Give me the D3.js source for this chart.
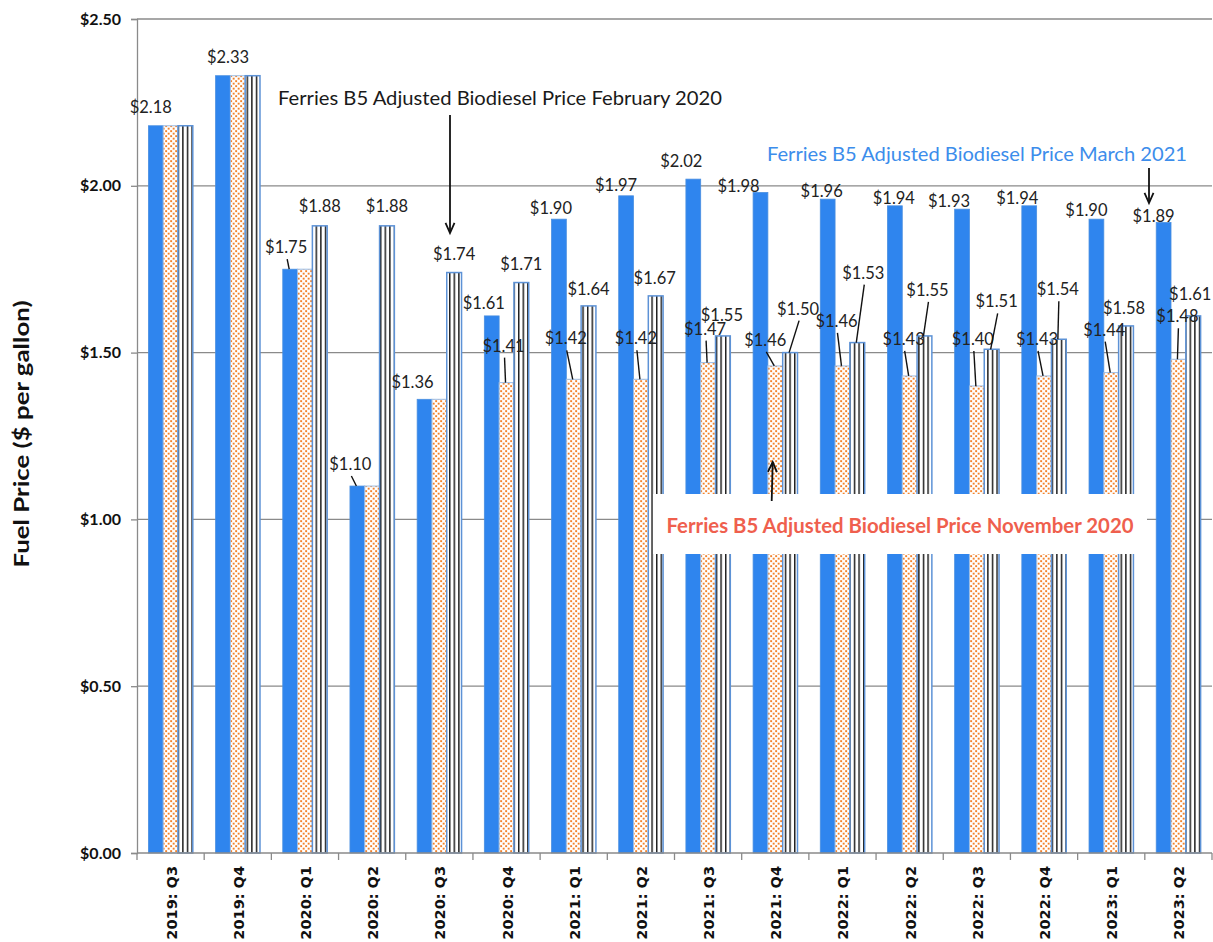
<!DOCTYPE html>
<html><head><meta charset="utf-8">
<script src="https://cdn.jsdelivr.net/npm/d3@7"></script>
<style>body{margin:0;background:#fff}svg{display:block}</style>
</head><body><svg id="c" width="1213" height="942"></svg>
<script>
// ---------- data ----------
const categories = ["2019: Q3","2019: Q4","2020: Q1","2020: Q2","2020: Q3","2020: Q4","2021: Q1","2021: Q2","2021: Q3","2021: Q4","2022: Q1","2022: Q2","2022: Q3","2022: Q4","2023: Q1","2023: Q2"];
const blueValues   = [2.18,2.33,1.75,1.10,1.36,1.61,1.90,1.97,2.02,1.98,1.96,1.94,1.93,1.94,1.90,1.89];
const orangeValues = [2.18,2.33,1.75,1.10,1.36,1.41,1.42,1.42,1.47,1.46,1.46,1.43,1.40,1.43,1.44,1.48];
const stripeValues = [2.18,2.33,1.88,1.88,1.74,1.71,1.64,1.67,1.55,1.50,1.53,1.55,1.51,1.54,1.58,1.61];
const yTickValues  = [0,0.5,1,1.5,2,2.5];
const annotationTexts = ["Ferries B5 Adjusted Biodiesel Price February 2020","Ferries B5 Adjusted Biodiesel Price March 2021","Ferries B5 Adjusted Biodiesel Price November 2020"];

// ---------- label layout (nudges from bar top centre; null = no label) ----------
const blueNudge = [[-5,-19],[5,-19],[-4,-22],[-7,-22],[-12,-17],[-8,-13],[-8,-11],[-10,-11],[-12,-18],[-22,-6],[-6,-8],[-1,-8],[-13,-8],[-12,-8],[-10,-9],[-10,-6]];
const blueLeader = [0,0,1,1,0,0,0,0,0,0,0,0,0,0,0,0];
const orangeNudge = [null,null,null,null,null,[-3,-37],[-8,-41],[-5,-41],[-3,-34],[-10,-26],[-6,-45],[-6,-37],[-4,-47],[-7,-37],[-7,-43],[-1,-43]];
const orangeLeader = [0,0,0,0,0,1,1,1,1,1,1,1,1,1,1,1];
const stripeNudge = [null,null,[0,-20],[0,-20],[0,-19],[0,-19],[0,-17],[-1,-18],[-1,-21],[8,-44],[6,-70],[3,-46],[5,-48],[-1,-50],[-2,-18],[-3,-22]];
const stripeLeader = [0,0,0,0,0,0,0,0,0,1,1,1,1,1,0,0];

const svg = d3.select("#c");
const L = 137, R = 1212, T = 19, B = 853;
const x = d3.scaleBand().domain(categories).range([L, R]).padding(0);
const x1 = d3.scaleBand().domain(["blue","orange","stripe"]).range([11.4, 55.8]).padding(0);
const y = d3.scaleLinear().domain([0, 2.5]).range([B, T]);

// patterns
const defs = svg.append("defs");
const pd = defs.append("pattern").attr("id","dots").attr("patternUnits","userSpaceOnUse").attr("width",5).attr("height",5);
pd.append("rect").attr("width",5).attr("height",5).attr("fill","#fff");
pd.append("rect").attr("x",0.2).attr("y",0.2).attr("width",1.9).attr("height",1.9).attr("fill","#F3822A");
pd.append("rect").attr("x",2.7).attr("y",2.7).attr("width",1.9).attr("height",1.9).attr("fill","#F3822A");
const ps = defs.append("pattern").attr("id","stripes").attr("patternUnits","userSpaceOnUse").attr("width",4.6).attr("height",10);
ps.append("rect").attr("width",4.6).attr("height",10).attr("fill","#fff");
ps.append("rect").attr("x",2.8).attr("width",1.4).attr("height",10).attr("fill","#111");

// gridlines
svg.append("g").selectAll("line").data(yTickValues.filter(d => d > 0)).join("line")
  .attr("x1", L).attr("x2", R).attr("y1", d => y(d)).attr("y2", d => y(d))
  .attr("stroke", "#8a8a8a").attr("stroke-width", 1.3);

// y axis
const yAxis = svg.append("g").attr("transform", `translate(${L},0)`)
  .call(d3.axisLeft(y).tickValues(yTickValues).tickSize(6).tickFormat(d => "$" + d.toFixed(2)));
yAxis.select(".domain").attr("stroke", "#8a8a8a").attr("stroke-width", 1.3);
yAxis.selectAll(".tick line").attr("stroke", "#8a8a8a").attr("stroke-width", 1.3);
yAxis.selectAll(".tick text").attr("x", -16).attr("font-family", "Lato, sans-serif").attr("font-weight", "bold").attr("font-size", 16).attr("fill", "#111");

// bars
const series = [
  {key:"blue", values: blueValues, fill:"#2F85EE", stroke:"#4A8FE0", sw:0.8},
  {key:"orange", values: orangeValues, fill:"url(#dots)", stroke:"#9CBCE4", sw:1},
  {key:"stripe", values: stripeValues, fill:"url(#stripes)", stroke:"#5D92D6", sw:1.5}
];
const gBars = svg.append("g");
series.forEach(s => {
  gBars.append("g").selectAll("rect").data(s.values).join("rect")
    .attr("x", (d,i) => x(categories[i]) + x1(s.key))
    .attr("width", x1.bandwidth())
    .attr("y", d => y(d))
    .attr("height", d => B - y(d))
    .attr("fill", s.fill).attr("stroke", s.stroke).attr("stroke-width", s.sw);
});

// x axis
svg.append("line").attr("x1", L).attr("x2", R).attr("y1", B).attr("y2", B).attr("stroke", "#8a8a8a").attr("stroke-width", 1.5);
const bounds = categories.map(c => x(c)).concat([R]);
svg.append("g").selectAll("line").data(bounds).join("line")
  .attr("x1", d => d).attr("x2", d => d).attr("y1", B).attr("y2", B + 7)
  .attr("stroke", "#8a8a8a").attr("stroke-width", 1.3);
svg.append("g").selectAll("text").data(categories).join("text")
  .attr("transform", d => `translate(${x(d) + x.bandwidth()/2 + 1},866) rotate(-90)`)
  .attr("text-anchor", "end").attr("dominant-baseline", "central")
  .attr("font-family", "DejaVu Sans, sans-serif").attr("font-weight", "bold").attr("font-size", 14.5).attr("fill", "#111")
  .text(d => d);

// y title
svg.append("text").attr("transform", "translate(21,434) rotate(-90)")
  .attr("text-anchor", "middle").attr("dominant-baseline", "central")
  .attr("font-family", "Lato, sans-serif").attr("font-weight", "bold").attr("font-size", 20).attr("fill", "#111")
  .attr("textLength", 267).attr("lengthAdjust", "spacingAndGlyphs")
  .text("Fuel Price ($ per gallon)");

// annotation white box (November) drawn above bars
svg.append("rect").attr("x", 653).attr("y", 494).attr("width", 494).attr("height", 60).attr("fill", "#fff");

// value labels
const gLab = svg.append("g");
series.forEach((s, si) => {
  const nudges = [blueNudge, orangeNudge, stripeNudge][si];
  const leaders = [blueLeader, orangeLeader, stripeLeader][si];
  s.values.forEach((v, i) => {
    const n = nudges[i];
    if (!n) return;
    const cx = x(categories[i]) + x1(s.key) + x1.bandwidth()/2;
    const top = y(v);
    const lx = cx + n[0], ly = top + n[1];
    if (leaders[i]) {
      gLab.append("line").attr("x1", lx + 1).attr("y1", ly + 12).attr("x2", cx - 1).attr("y2", top)
        .attr("stroke", "#111").attr("stroke-width", 1.4);
    }
    gLab.append("text").attr("x", lx).attr("y", ly)
      .attr("text-anchor", "middle").attr("dominant-baseline", "central")
      .attr("font-family", "Lato, sans-serif").attr("font-size", 16.5).attr("fill", "#222")
      .text("$" + v.toFixed(2));
  });
});

// annotations
function arrow(x1p, y1p, x2p, y2p) {
  svg.append("line").attr("x1", x1p).attr("y1", y1p).attr("x2", x2p).attr("y2", y2p).attr("stroke", "#111").attr("stroke-width", 1.8);
  const a = Math.atan2(y2p - y1p, x2p - x1p), len = 11, sp = 0.42;
  const p1 = [x2p - len*Math.cos(a - sp), y2p - len*Math.sin(a - sp)];
  const p2 = [x2p - len*Math.cos(a + sp), y2p - len*Math.sin(a + sp)];
  svg.append("path").attr("d", `M${p1}L${x2p},${y2p}L${p2}`).attr("fill", "none").attr("stroke", "#111").attr("stroke-width", 1.8);
}
svg.append("text").attr("x", 500).attr("y", 97).attr("text-anchor", "middle").attr("dominant-baseline", "central")
  .attr("font-family", "Lato, sans-serif").attr("font-size", 20).attr("fill", "#1a1a1a")
  .attr("textLength", 444).attr("lengthAdjust", "spacingAndGlyphs").text(annotationTexts[0]);
arrow(450, 115, 450, 233);
svg.append("text").attr("x", 977).attr("y", 153).attr("text-anchor", "middle").attr("dominant-baseline", "central")
  .attr("font-family", "Lato, sans-serif").attr("font-size", 20).attr("fill", "#3C8DEB")
  .attr("textLength", 420).attr("lengthAdjust", "spacingAndGlyphs").text(annotationTexts[1]);
arrow(1149, 168, 1149, 203);
svg.append("text").attr("x", 900).attr("y", 525).attr("text-anchor", "middle").attr("dominant-baseline", "central")
  .attr("font-family", "Lato, sans-serif").attr("font-weight", "bold").attr("font-size", 20).attr("fill", "#EF5F4E")
  .attr("textLength", 467).attr("lengthAdjust", "spacingAndGlyphs").text(annotationTexts[2]);
arrow(771.7, 501, 772.7, 462);
</script></body></html>
